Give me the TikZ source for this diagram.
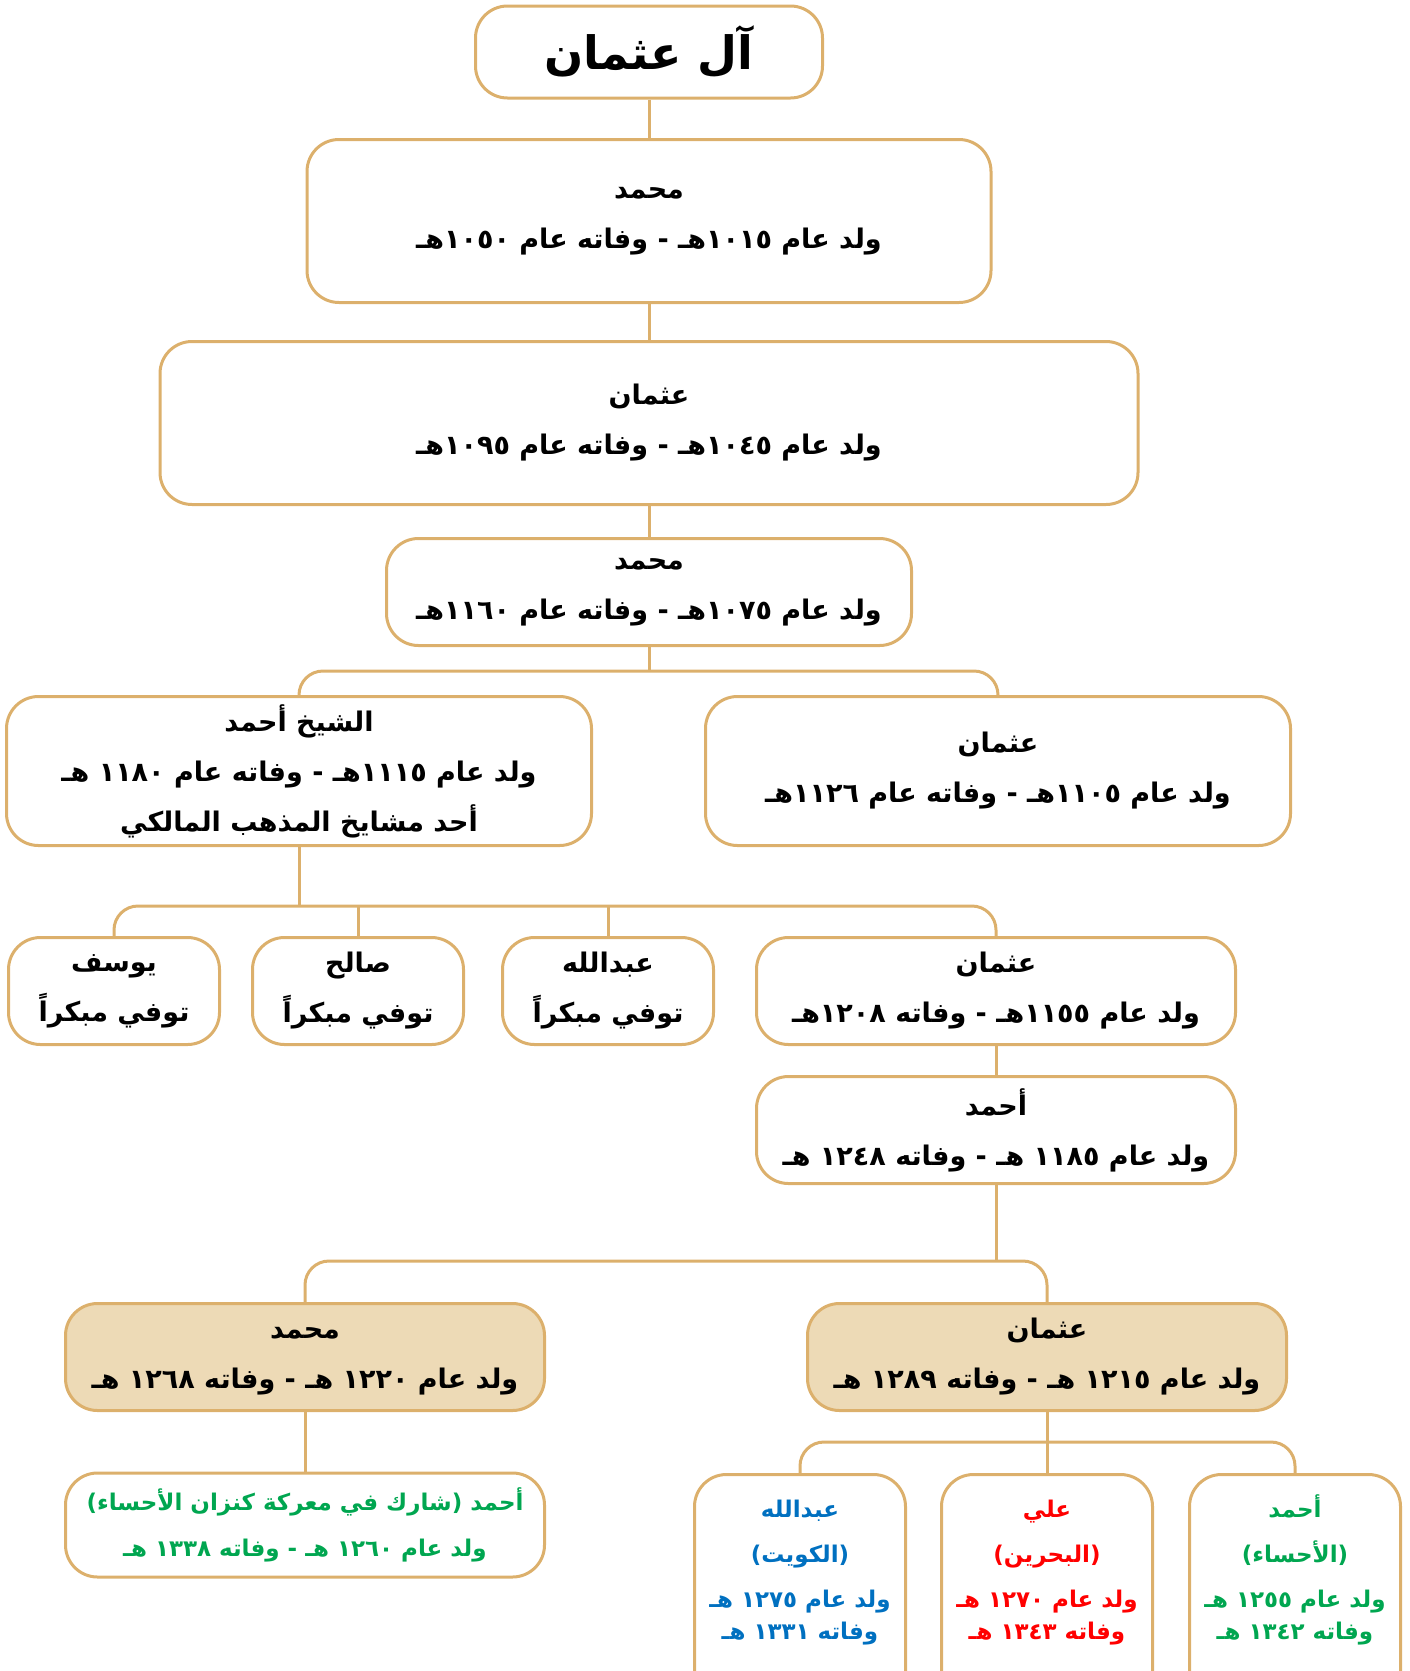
\documentclass[tikz,border=0pt]{standalone}
\usepackage{fontspec}
\usepackage{tikz}
\usetikzlibrary{positioning}
\newfontfamily\arabicfont[Script=Arabic]{DejaVu Sans}
\TeXXeTstate=1
\newcommand{\artext}[1]{\beginR #1\endR}
\definecolor{boxline}{HTML}{DCB06C}
\definecolor{boxfill}{HTML}{EDDAB6}
\definecolor{ahsa}{HTML}{00A650}
\definecolor{kuwait}{HTML}{0070C0}
\definecolor{bahrain}{HTML}{FF0000}

\begin{document}
\begin{tikzpicture}[x=1pt, y=-1pt]
      \tikzstyle{box} = [draw=boxline, line width=3pt, rounded corners=32pt, align=center, inner sep=0pt,
        font=\arabicfont\bfseries\fontsize{27}{50}\selectfont]
      \tikzstyle{big} = [box, minimum height=163pt]
      \tikzstyle{wide} = [box, minimum width=479pt, minimum height=107pt]
      \tikzstyle{small} = [box, minimum width=211pt, minimum height=107pt]
      \tikzstyle{shaded} = [wide, fill=boxfill, text depth=22pt]
      \tikzstyle{tall} = [box, minimum width=211pt, anchor=north, inner ysep=11pt, text depth=150pt,
        font=\arabicfont\bfseries\fontsize{23}{45}\selectfont]
      \tikzstyle{link} = [draw=boxline, line width=3pt, rounded corners=24pt]
      \useasboundingbox (0,0) rectangle (1409,1671);
      \clip (0,0) rectangle (1409,1671);

      % top line
      \path
	node[box, minimum width=347pt, minimum height=92pt, font=\arabicfont\bfseries\fontsize{46}{52}\selectfont]
	  (t) at (649,52) {\artext{آل عثمان}}
	node[big, minimum width=684pt] (n1) at (649,221)
	  {\artext{محمد}\\\artext{ولد عام ١٠١٥هـ - وفاته عام ١٠٥٠هـ}}
	node[big, minimum width=978pt] (n2) at (649,423)
	  {\artext{عثمان}\\\artext{ولد عام ١٠٤٥هـ - وفاته عام ١٠٩٥هـ}}
	node[box, minimum width=525pt, minimum height=107pt] (n3) at (649,592)
	  {\artext{محمد}\\\artext{ولد عام ١٠٧٥هـ - وفاته عام ١١٦٠هـ}}
	node[box, minimum width=585pt, minimum height=149pt] (n4) at (299,771)
	  {\artext{الشيخ أحمد}\\\artext{ولد عام ١١١٥هـ - وفاته عام ١١٨٠ هـ}\\\artext{أحد مشايخ المذهب المالكي}}
	node[box, minimum width=585pt, minimum height=149pt] (n5) at (998,771)
	  {\artext{عثمان}\\\artext{ولد عام ١١٠٥هـ - وفاته عام ١١٢٦هـ}}
	;

      % sons of the sheikh
      \path
	node[small] (c1) at (114,991) {\artext{يوسف}\\\artext{توفي مبكراً}}
	node[small] (c2) at (358,991) {\artext{صالح}\\\artext{توفي مبكراً}}
	node[small] (c3) at (608,991) {\artext{عبدالله}\\\artext{توفي مبكراً}}
	node[wide] (c4) at (996,991)
	  {\artext{عثمان}\\\artext{ولد عام ١١٥٥هـ - وفاته ١٢٠٨هـ}}
	node[wide] (d1) at (996,1130)
	  {\artext{أحمد}\\\artext{ولد عام ١١٨٥ هـ - وفاته ١٢٤٨ هـ}}
	node[shaded] (e1) at (305,1357)
	  {\artext{\strut محمد}\\\artext{ولد عام ١٢٢٠ هـ - وفاته ١٢٦٨ هـ}}
	node[shaded] (e2) at (1047,1357)
	  {\artext{\strut عثمان}\\\artext{ولد عام ١٢١٥ هـ - وفاته ١٢٨٩ هـ}}
	node[wide, minimum height=104pt, text=ahsa, font=\arabicfont\bfseries\fontsize{23}{46}\selectfont] (f1) at (305,1525)
	  {\artext{أحمد (شارك في معركة كنزان الأحساء)}\\\artext{ولد عام ١٢٦٠ هـ - وفاته ١٣٣٨ هـ}}
	node[tall, text=kuwait] (g1) at (800,1473)
	  {\artext{\strut عبدالله}\\\artext{(الكويت)}\\\artext{ولد عام ١٢٧٥ هـ}\\[-13pt]\artext{وفاته ١٣٣١ هـ}}
	node[tall, text=bahrain] (g2) at (1047,1473)
	  {\artext{\strut علي}\\\artext{(البحرين)}\\\artext{ولد عام ١٢٧٠ هـ}\\[-13pt]\artext{وفاته ١٣٤٣ هـ}}
	node[tall, text=ahsa] (g3) at (1295,1473)
	  {\artext{\strut أحمد}\\\artext{(الأحساء)}\\\artext{ولد عام ١٢٥٥ هـ}\\[-13pt]\artext{وفاته ١٣٤٢ هـ}}
	;

      \coordinate (b1) at (649,671);
      \coordinate (b2) at (299,906);
      \coordinate (b3) at (996,1261);
      \coordinate (b4) at (1047,1442);

      \draw[link] (t) -- (n1);
      \draw[link] (n1) -- (n2);
      \draw[link] (n2) -- (n3);
      \draw[link] (n3) -- (b1);
      \draw[link] (n4.north) |- (b1) -| (n5.north);
      \draw[link] (n4) -- (b2);
      \draw[link] (c1.north) |- (b2) -| (c4.north);
      \draw[link] (c2.north) -- (c2.north |- b2);
      \draw[link] (c3.north) -- (c3.north |- b2);
      \draw[link] (c4) -- (d1);
      \draw[link] (d1) -- (b3);
      \draw[link] (e1.north) |- (b3) -| (e2.north);
      \draw[link] (e1) -- (f1);
      \draw[link] (e2) -- (b4);
      \draw[link] (g1.north) |- (b4) -| (g3.north);
      \draw[link] (g2.north) -- (b4);
    \end{tikzpicture}
\end{document}
